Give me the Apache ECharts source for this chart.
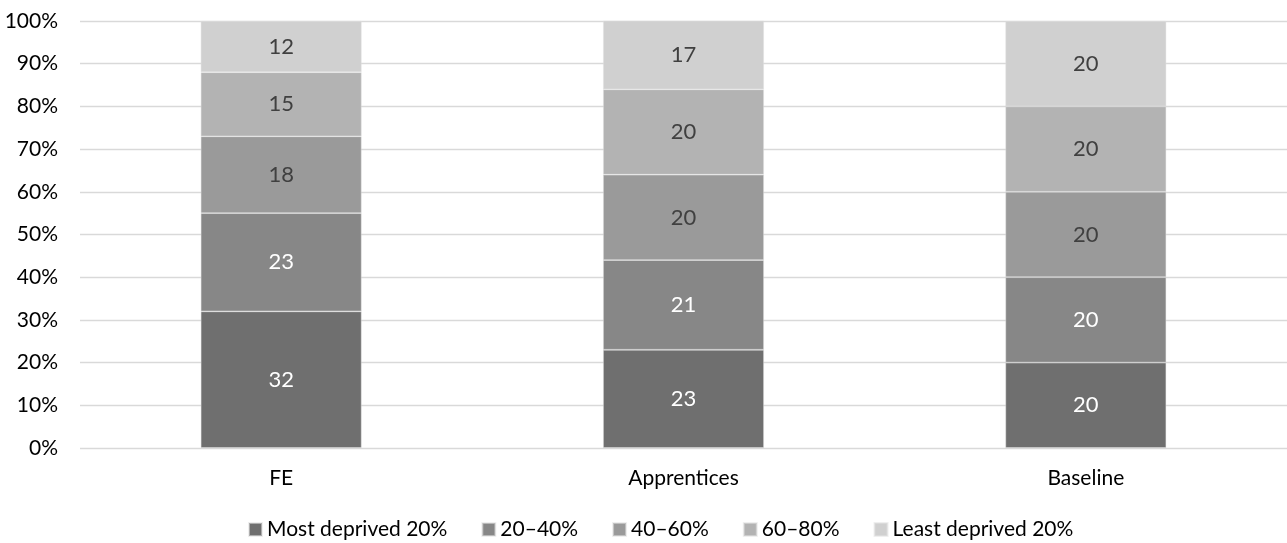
<!DOCTYPE html>
<html>
<head>
<meta charset="utf-8">
<script src="https://cdn.jsdelivr.net/npm/echarts@6/dist/echarts.min.js"></script>
<style>
  html, body { margin: 0; padding: 0; background: #fff; }
  #chart { width: 1287px; height: 543px; }
</style>
</head>
<body>
<div id="chart"></div>
<script>
// Share of learners by deprivation quintile (%)
const categories = ['FE', 'Apprentices', 'Baseline'];
const seriesNames = ['Most deprived 20%', '20–40%', '40–60%', '60–80%', 'Least deprived 20%'];
const mostDeprived = [32, 23, 20];
const q20to40 = [23, 21, 20];
const q40to60 = [18, 20, 20];
const q60to80 = [15, 20, 20];
const leastDeprived = [12, 17, 20];
const yTicks = [0, 10, 20, 30, 40, 50, 60, 70, 80, 90, 100];

const values = [mostDeprived, q20to40, q40to60, q60to80, leastDeprived];
const colors = ['#6f6f6f', '#878787', '#9a9a9a', '#b3b3b3', '#d0d0d0'];
const labelColors = ['#ffffff', '#ffffff', '#404040', '#404040', '#404040'];
const FONT = 'Lato, "Open Sans", sans-serif';

const chart = echarts.init(document.getElementById('chart'), null, { renderer: 'canvas' });

chart.setOption({
  animation: false,
  backgroundColor: '#ffffff',
  textStyle: { fontFamily: FONT },
  grid: { left: 80, right: 0, top: 21, bottom: 95, containLabel: false },
  legend: {
    data: seriesNames,
    left: 248,
    top: 519,
    padding: 0,
    itemWidth: 13,
    itemHeight: 13,
    itemGap: 34,
    icon: 'rect',
    textStyle: { fontFamily: FONT, fontSize: 21, color: '#000', padding: [0, 0, 0, 0] }
  },
  xAxis: {
    type: 'category',
    data: categories,
    axisLine: { show: false },
    axisTick: { show: false },
    axisLabel: { fontFamily: FONT, fontSize: 21, color: '#000', margin: 20 }
  },
  yAxis: {
    type: 'value',
    min: yTicks[0],
    max: yTicks[yTicks.length - 1],
    interval: yTicks[1] - yTicks[0],
    axisLine: { show: false },
    axisTick: { show: false },
    splitLine: { lineStyle: { color: '#d9d9d9', width: 1.3 } },
    axisLabel: { fontFamily: FONT, fontSize: 21, color: '#000', margin: 22, formatter: '{value}%' }
  },
  series: values.map((arr, i) => ({
    name: seriesNames[i],
    type: 'bar',
    stack: 'total',
    data: arr,
    barWidth: '40%',
    itemStyle: { color: colors[i], borderColor: 'rgba(225,225,225,0.55)', borderWidth: 0.8 },
    label: {
      show: true,
      position: 'inside',
      fontFamily: FONT,
      fontSize: 22,
      color: labelColors[i]
    }
  }))
});
</script>
</body>
</html>
